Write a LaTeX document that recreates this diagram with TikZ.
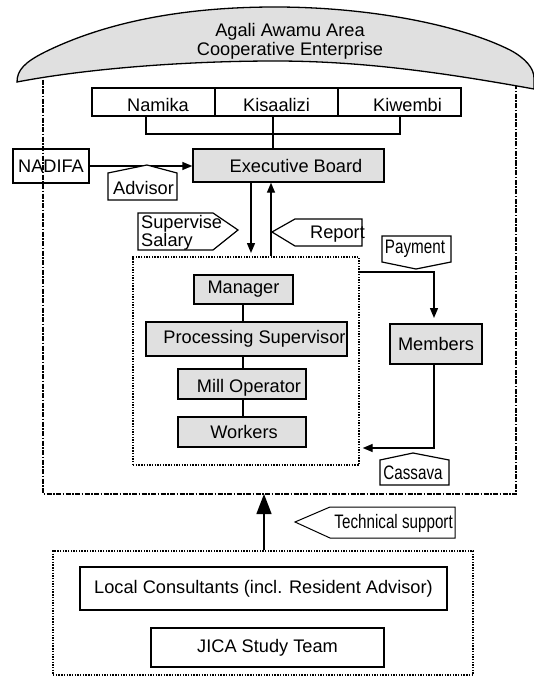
\documentclass[tikz,border=0pt]{standalone}
\usepackage{fontspec}
\setmainfont{Liberation Sans}
\newfontfamily\narrowfont[FakeStretch=0.78]{Liberation Sans}
\usetikzlibrary{arrows.meta}
\definecolor{boxgray}{gray}{0.88}
\begin{document}
\begin{tikzpicture}[x=1pt,y=-1pt,
  font=\fontsize{18.2}{19}\selectfont,
  bx/.style 2 args={draw,line width=1.4pt,inner sep=0pt,minimum width=#1,minimum height=#2},
  gbx/.style 2 args={bx={#1}{#2},fill=boxgray},
  callout/.style={draw,line width=1.2pt,fill=white,line join=miter},
  arr/.style={line width=1.4pt,-{Triangle[length=10pt,width=8pt]}},
  bigarr/.style={line width=1.4pt,-{Triangle[length=20pt,width=15pt]}},
  ln/.style={line width=1.3pt},
  dotbox/.style={draw,line width=1.4pt,dash pattern=on 1.4pt off 1.3pt,inner sep=0pt},
  outerframe/.style={line width=1.6pt,dash pattern=on 5pt off 1.5pt on 1.5pt off 1.5pt},
  narrow/.style={font=\narrowfont\fontsize{19.5}{20}\selectfont}]
\useasboundingbox (0,0) rectangle (534,677);

% outer frame
\coordinate (frtl) at (43,70);
\coordinate (frbl) at (43,494);
\coordinate (frbr) at (516,494);
\coordinate (frtr) at (516,70);
\coordinate (frb) at (264,494);
\draw[outerframe] (frtl) -- (frbl) -- (frbr) -- (frtr);

% arch
\draw[line width=1.3pt,fill=boxgray]
  (17,82) .. controls (17,70) and (25,62) .. (45,52)
  .. controls (110,20) and (190,7) .. (275,7)
  .. controls (370,7) and (460,25) .. (510,50)
  .. controls (525,58) and (534,68) .. (534,78)
  -- (534,89)
  .. controls (440,72) and (360,61) .. (275,61)
  .. controls (190,61) and (90,68) .. (17,82) -- cycle;
\node[align=center] (title) at (290,41) {Agali Awamu Area\\Cooperative Enterprise};

% top row
\node[bx={123}{28}] (nam) at (153.5,102) {\hspace*{9pt}\raisebox{-3pt}[\height][\depth]{Namika}};
\node[bx={123}{28}] (kis) at (276.5,102) {\raisebox{-3pt}[\height][\depth]{Kisaalizi}};
\node[bx={123}{28}] (kiw) at (399.5,102) {\hspace*{16pt}\raisebox{-3pt}[\height][\depth]{Kiwembi}};
\coordinate (hl) at (146,134);
\coordinate (hr) at (400,134);
\draw[ln] (nam.south -| hl) -- (hl) -- (hr) -- (kiw.south -| hr);

% executive board
\node[gbx={191}{33}] (exec) at (288.5,165.5) {\hspace*{15pt}Executive Board};
\draw[ln] (kis.south -| 273,0) -- (exec.north -| 273,0);

% NADIFA
\node[bx={76}{34}] (nad) at (51,166) {NADIFA};
\draw[arr] (nad.east) -- (nad.east -| exec.west);

% Advisor callout
\draw[callout] (108,200) -- (108,173) -- (147,165) -- (177,173) -- (177,200) -- cycle;
\node[anchor=west,inner sep=0pt] (adv) at (113,188) {Advisor};

% inner dotted box
\node[dotbox,minimum width=226,minimum height=208] (inner) at (246,361) {};

% arrows between exec and inner
\draw[arr] (exec.south -| 251,0) -- (251,253);
\draw[arr] (inner.north -| 271,0) -- (exec.south -| 271,0);

% Supervise Salary callout
\draw[callout] (138,213) -- (213,213) -- (238,230) -- (213,250) -- (138,250) -- cycle;
\node[align=left,anchor=west,inner sep=0pt,font=\fontsize{18.2}{17.5}\selectfont] (sup) at (141,233) {Supervise\\Salary};

% Report callout
\draw[callout] (272,232) -- (295,219) -- (362,219) -- (362,246) -- (295,246) -- cycle;
\node[anchor=west,inner sep=0pt] (rep) at (310,234) {Report};

% staff boxes
\node[gbx={99}{29}] (mgr) at (243.5,289.5) {Manager};
\node[gbx={201}{34}] (proc) at (246.5,339) {\hspace*{16pt}Processing Supervisor};
\node[gbx={128}{30}] (mill) at (242,384) {\hspace*{14pt}\raisebox{-4pt}[\height][\depth]{Mill Operator}};
\node[gbx={128}{30}] (work) at (242,432) {\hspace*{4pt}Workers};
\draw[ln] (mgr.south -| 243,0) -- (proc.north -| 243,0);
\draw[ln] (proc.south -| 243,0) -- (mill.north -| 243,0);
\draw[ln] (mill.south -| 243,0) -- (work.north -| 243,0);

% members
\node[gbx={92}{40}] (mem) at (436,344) {Members};
\coordinate (pc) at (434,272);
\draw[arr] (inner.east |- pc) -- (pc) -- (434,318);
\coordinate (cc) at (434,448);
\draw[arr,shorten >=3pt] (mem.south -| cc) -- (cc) -- (inner.east |- cc);

% Payment callout
\draw[callout] (382,236) -- (451,236) -- (451,262) -- (416,269) -- (382,262) -- cycle;
\node[narrow,inner sep=0pt] (pay) at (415,249) {Payment};

% Cassava callout
\draw[callout] (380,485) -- (380,460) -- (413,453) -- (449,460) -- (449,485) -- cycle;
\node[narrow,inner sep=0pt] (cas) at (413,473) {Cassava};

% bottom box
\node[dotbox,minimum width=420,minimum height=124] (bot) at (263,613) {};
\node[bx={367}{43}] (loc) at (263.5,588.5) {Local Consultants (incl. Resident Advisor)};
\node[bx={233}{39}] (jica) at (267.5,647.5) {JICA Study Team};
\draw[bigarr] (bot.north -| frb) -- (frb);

% Technical support callout
\draw[callout,line width=1pt] (295,522) -- (330,507) -- (455,507) -- (455,538) -- (330,538) -- cycle;
\node[narrow,anchor=east,inner sep=0pt] (tech) at (453,523) {Technical support};
\end{tikzpicture}
\end{document}
